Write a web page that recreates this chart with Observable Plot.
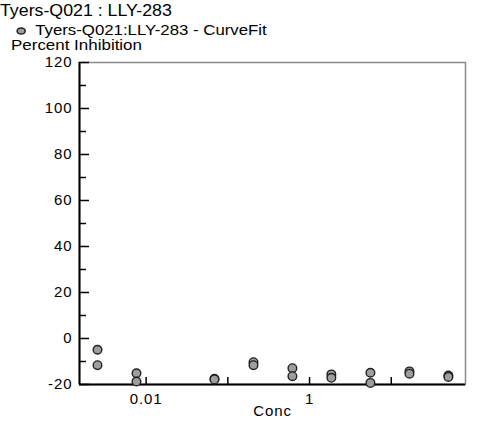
<!DOCTYPE html>
<html>
<head>
<meta charset="utf-8">
<script src="https://cdn.jsdelivr.net/npm/d3@7"></script>
<script src="https://cdn.jsdelivr.net/npm/@observablehq/plot@0.6"></script>
<style>
  html, body { margin: 0; padding: 0; background: #fff; }
  #wrap { position: relative; width: 500px; height: 421px; font-family: "Liberation Sans", Arial, sans-serif; color: #000; }
  #wrap svg.plot { position: absolute; left: 0; top: 0; }
  .t { position: absolute; white-space: pre; line-height: 13px; transform-origin: left top; }
</style>
</head>
<body>
<div id="wrap">
  <div class="t" id="title" style="left:0px; top:4px; font-size:16px; line-height:14px; transform:scaleX(1.11);"></div>
  <div class="t" id="legend" style="left:15px; top:23px; font-size:15px; transform:scaleX(1.12);"></div>
  <div class="t" id="ylabel" style="left:11px; top:39px; font-size:15px; line-height:12px; transform:scaleX(1.13);"></div>
</div>
<script>
// ---- data ----
const titleText = "Tyers-Q021 : LLY-283";
const seriesName = "Tyers-Q021:LLY-283 - CurveFit";
const yAxisLabel = "Percent Inhibition";
const xAxisLabel = "Conc";
const conc = [0.00254, 0.00762, 0.0686, 0.206, 0.617, 1.85, 5.56, 16.7, 50];
const rep1 = [-4.9, -15.1, -17.5, -10.3, -12.9, -15.6, -14.9, -14.3, -16.1];
const rep2 = [-11.6, -18.7, -17.8, -11.6, -16.4, -17.1, -19.3, -15.3, -16.7];
const xDomain = [0.00153, 81];
const yDomain = [-20, 120];
const yMajor = [-20, 0, 20, 40, 60, 80, 100, 120];
const yMinor = [-10, 10, 30, 50, 70, 90, 110];
const xTicks = [0.01, 0.1, 1, 10];
const xLabels = [0.01, 1];

const data = conc.flatMap((c, i) => [{conc: c, inh: rep1[i]}, {conc: c, inh: rep2[i]}]);

const W = 500, H = 421, mL = 79, mR = 35, mT = 62, mB = 37;
const plotW = W - mL - mR, plotH = H - mT - mB;

document.getElementById("title").textContent = titleText;
document.getElementById("ylabel").textContent = yAxisLabel;
const leg = document.getElementById("legend");
leg.innerHTML = '<svg width="12" height="10" style="vertical-align:-1px;margin-right:6px"><ellipse cx="5.5" cy="5" rx="3.6" ry="3" fill="#9e9e9e" stroke="#222" stroke-width="1.4"/></svg>';
leg.appendChild(document.createTextNode(seriesName));

const FS = 15;
const chart = Plot.plot({
  width: W, height: H,
  marginLeft: mL, marginRight: mR, marginTop: mT, marginBottom: mB,
  style: {fontFamily: '"Liberation Sans", Arial, sans-serif', fontSize: "15px", letterSpacing: "0.9px", color: "#000", background: "transparent"},
  x: {type: "log", domain: xDomain},
  y: {domain: yDomain},
  marks: [
    Plot.frame({stroke: "#8a8a8a", strokeWidth: 1.5}),
    Plot.ruleX([xDomain[0]], {stroke: "#000", strokeWidth: 2}),
    Plot.ruleY([yDomain[0]], {stroke: "#000", strokeWidth: 2}),
    Plot.tickY(yMajor, {y: d => d, insetRight: plotW - 10, stroke: "#000", strokeWidth: 1.5}),
    Plot.tickY(yMinor, {y: d => d, insetRight: plotW - 7, stroke: "#000", strokeWidth: 1.5}),
    Plot.tickX(xTicks, {x: d => d, insetTop: plotH - 7, stroke: "#000", strokeWidth: 1.5}),
    Plot.axisY(yMajor, {tickSize: 0, tickPadding: 7, label: null, fontSize: FS, tickFormat: d => String(d)}),
    Plot.axisX(xLabels, {tickSize: 0, tickPadding: 9, label: null, fontSize: FS, tickFormat: d => String(d)}),
    Plot.text([xAxisLabel], {text: d => d, frameAnchor: "bottom", dy: 31, fontSize: FS}),
    Plot.dot(data, {x: "conc", y: "inh", r: 4.3, fill: "#9e9e9e", stroke: "#222", strokeWidth: 1.4})
  ]
});
chart.classList.add("plot");
document.getElementById("wrap").appendChild(chart);
</script>
</body>
</html>
